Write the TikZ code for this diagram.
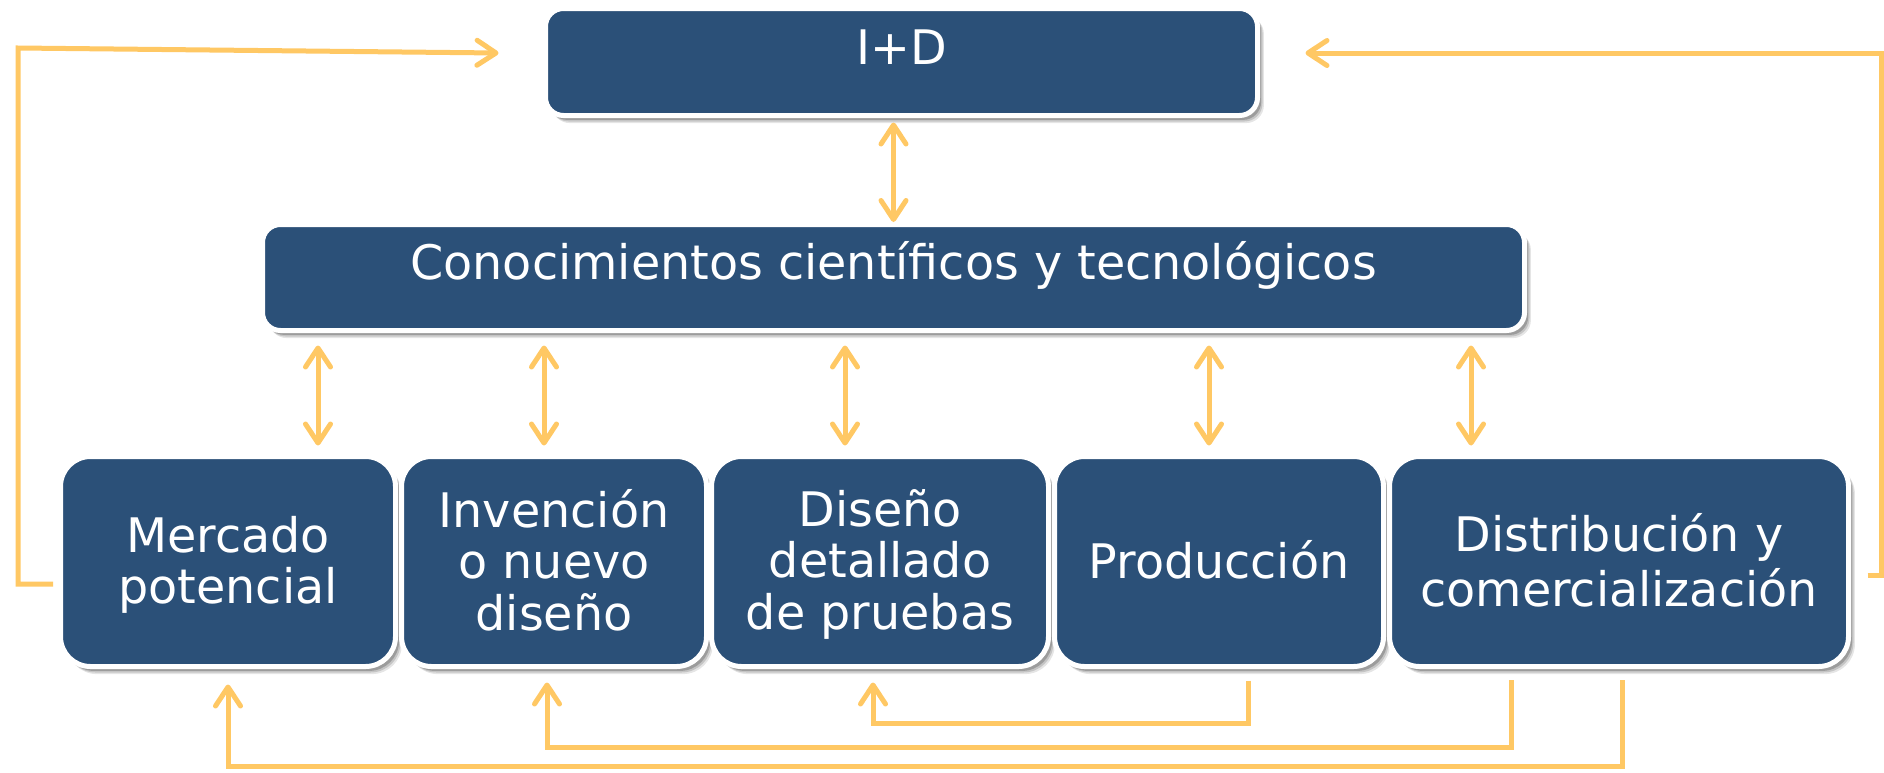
\documentclass[tikz,border=0pt]{standalone}
\usepackage{fontspec}
\setmainfont{DejaVu Sans}
\usetikzlibrary{arrows.meta,shadows,calc}
\definecolor{boxblue}{RGB}{43,80,120}
\definecolor{arrgold}{RGB}{255,200,100}
\newcommand\lnstrut{\rule[-0.17em]{0pt}{1.07em}}
\begin{document}
\begin{tikzpicture}[x=0.5pt,y=-0.5pt,
  >={Straight Barb[length=9.5pt,width=12.5pt,line cap=round,line join=round]},
  box/.style={draw=white, line width=2.5pt, fill=boxblue, text=white, inner sep=0pt,
    font=\fontsize{23.8pt}{25.7pt}\selectfont,
    drop shadow={shadow xshift=3.2pt, shadow yshift=-3.8pt, fill=black, opacity=0.1},
    drop shadow={shadow xshift=2.5pt, shadow yshift=-3pt, fill=black, opacity=0.14},
    drop shadow={shadow xshift=1.8pt, shadow yshift=-2.2pt, fill=black, opacity=0.2}},
  topbox/.style={box, rounded corners=9pt, text height=2pt, text depth=0pt},
  botbox/.style={box, rounded corners=15pt, minimum height=105pt, align=center},
  conn/.style={draw=arrgold, line width=2.5pt},
  arr/.style={conn, ->},
  darr/.style={conn, <->}]
\fill[white] (0,0) rectangle (1884,772);
\useasboundingbox (0,0) rectangle (1884,772);

% boxes
\node[topbox, minimum width=356pt, minimum height=53.5pt] (idd) at (901.5,62) {I+D};
\node[topbox, minimum width=631pt, minimum height=53pt] (conoc) at (893.5,277.5) {Conocimientos científicos y tecnológicos};
\node[botbox, minimum width=167.5pt] (m) at (228,561.5) {\lnstrut Mercado\\\lnstrut potencial};
\node[botbox, minimum width=152.5pt] (inv) at (554,561.5) {\lnstrut Invención\\\lnstrut o nuevo\\\lnstrut diseño};
\node[botbox, minimum width=168.5pt] (dis) at (880,561.5) {\lnstrut Diseño\\\lnstrut detallado\\\lnstrut de pruebas};
\node[botbox, minimum width=164.5pt] (prod) at (1219,561.5) {\lnstrut Producción};
\node[botbox, minimum width=229.5pt] (dist) at (1619,561.5) {\lnstrut Distribución y\\\lnstrut comercialización};

% helper coordinates
\coordinate (x1) at (318,0);
\coordinate (x2) at (544,0);
\coordinate (x3) at (845,0);
\coordinate (x4) at (1209,0);
\coordinate (x5) at (1471,0);
\coordinate (lb) at (18,584);
\coordinate (lt) at (18,48);
\coordinate (rb) at (1881,575);
\coordinate (rt) at (1881,53);
\coordinate (p1) at (1248,723);
\coordinate (p2) at (873,723);
\coordinate (q1) at (1511,747);
\coordinate (q2) at (547,747);
\coordinate (s1) at (1622,766);
\coordinate (s2) at (228,766);

% vertical double arrows
\draw[darr, shorten <=2.25pt] (idd.south -| conoc.north) -- (conoc.north);
\draw[darr, shorten <=6.25pt, shorten >=4.25pt] (conoc.south -| x1) -- (m.north -| x1);
\draw[darr, shorten <=6.25pt, shorten >=4.25pt] (conoc.south -| x2) -- (inv.north -| x2);
\draw[darr, shorten <=6.25pt, shorten >=4.25pt] (conoc.south -| x3) -- (dis.north -| x3);
\draw[darr, shorten <=6.25pt, shorten >=4.25pt] (conoc.south -| x4) -- (prod.north -| x4);
\draw[darr, shorten <=6.25pt, shorten >=4.25pt] (conoc.south -| x5) -- (dist.north -| x5);

% feedback loops to I+D
\draw[arr, shorten <=2.5pt] ([yshift=-11.25pt]m.west) -- (lb) -- (lt) -- ([xshift=-22.25pt,yshift=4.5pt]idd.west);
\draw[arr, shorten <=8.25pt] ([yshift=-6.75pt]dist.east) -- (rb) -- (rt) -- ([xshift=22.75pt,yshift=4.5pt]idd.east);

% bottom feedback loops
\draw[arr, shorten <=5.75pt, shorten >=6.75pt] (prod.south -| p1) -- (p1) -- (p2) -- (dis.south -| p2);
\draw[arr, shorten <=5.5pt, shorten >=6.75pt] (dist.south -| q1) -- (q1) -- (q2) -- (inv.south -| q2);
\draw[arr, shorten <=5.5pt, shorten >=7.75pt] (dist.south -| s1) -- (s1) -- (s2) -- (m.south -| s2);
\end{tikzpicture}
\end{document}
